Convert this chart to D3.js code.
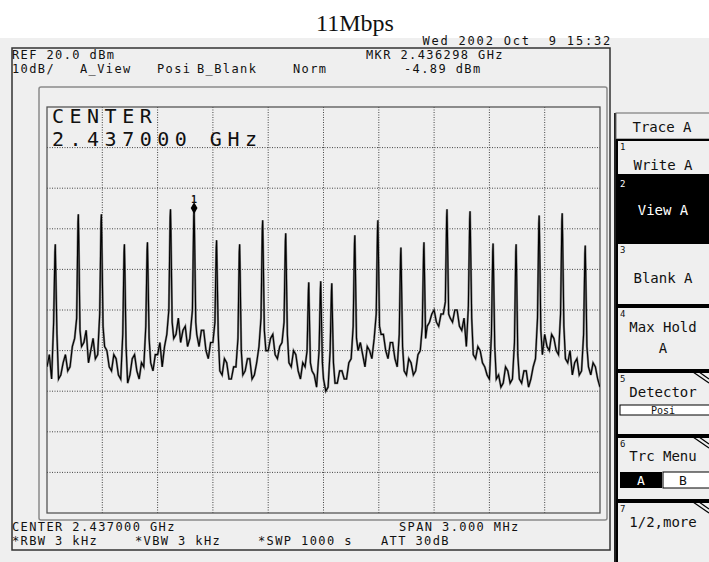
<!DOCTYPE html>
<html>
<head>
<meta charset="utf-8">
<script src="https://cdn.jsdelivr.net/npm/d3@7"></script>
<style>
  body { margin: 0; background: #fff; }
  svg text { font-family: "DejaVu Sans Mono", "Liberation Mono", monospace; fill: #111; }
</style>
</head>
<body>
<svg id="chart" width="709" height="562"></svg>
<script>
// analyzer settings
var startMHz = 2435.5, stopMHz = 2438.5;
var refLevel = 20, bottomLevel = -80;

// spikes (MHz / dBm)
var peakFreqs = [2435.545, 2435.670, 2435.795, 2435.920, 2436.045, 2436.170, 2436.298, 2436.420,
                 2436.545, 2436.670, 2436.795, 2436.920, 2436.985, 2437.045, 2437.170, 2437.295,
                 2437.420, 2437.545, 2437.670, 2437.795, 2437.920, 2438.045, 2438.170, 2438.295, 2438.420];
var peakLevels = [-13.8, -6.4, -6.4, -13.8, -13.3, -5.2, -4.89, -12.8,
                  -13.8, -7.9, -11.1, -23.2, -22.9, -23.4, -11.6, -7.9,
                  -14.6, -13.3, -5.2, -5.7, -13.6, -13.8, -6.7, -6.2, -14.1];
// level where each spike leaves its skirt
var shoulderLevels = [-33, -32, -31, -36, -34, -30, -30, -33,
                      -37, -32, -33, -40, -40, -40, -34, -31,
                      -36, -34, -28, -29, -36, -38, -32, -31, -36];

// noise floor, one reading every 12.5 kHz from the left edge (dBm)
var floorStep = 0.0125;
var floorLevels = [
  -44, -41, -47, -45, -42, -47, -46, -43, -41, -45, -44, -39, -37, -40, -36, -39,
  -38, -35, -43, -40, -37, -42, -41, -38, -35, -39, -40, -44, -45, -41, -42, -46,
  -47, -44, -43, -48, -46, -42, -41, -45, -47, -43, -44, -47, -40, -43, -45, -41,
  -41, -38, -44, -39, -36, -40, -33, -37, -36, -32, -38, -35, -34, -39, -37, -34,
  -33, -36, -39, -35, -35, -40, -42, -38, -38, -43, -41, -45, -46, -42, -43, -47,
  -47, -44, -44, -40, -41, -46, -45, -42, -42, -47, -46, -43, -39, -42, -37, -40,
  -40, -37, -36, -41, -42, -39, -38, -35, -40, -43, -44, -40, -41, -45, -47, -43,
  -44, -46, -48, -45, -46, -49, -49, -46, -47, -50, -49, -47, -46, -48, -48, -45,
  -45, -47, -47, -43, -42, -45, -43, -40, -38, -41, -44, -39, -40, -42, -37, -40,
  -39, -36, -36, -40, -42, -38, -38, -42, -44, -41, -41, -45, -46, -42, -43, -46,
  -45, -41, -40, -38, -37, -34, -33, -31, -30, -33, -34, -31, -31, -28, -29, -32,
  -33, -30, -30, -34, -35, -32, -39, -36, -37, -41, -42, -39, -40, -43, -44, -46,
  -47, -44, -43, -47, -46, -49, -48, -44, -45, -48, -47, -44, -44, -47, -48, -45,
  -45, -49, -47, -44, -42, -40, -38, -41, -36, -39, -40, -36, -37, -40, -41, -38,
  -38, -42, -43, -40, -46, -43, -42, -46, -45, -42, -41, -44, -46, -43, -44, -47,
  -49];

var markerFreq = 2436.298, markerLevel = -4.89;

var headerTexts = [
  {t: "REF 20.0 dBm", x: 12, y: 59}, {t: "MKR 2.436298 GHz", x: 366, y: 59},
  {t: "10dB/", x: 12, y: 73}, {t: "A_View", x: 80, y: 73}, {t: "Posi", x: 157, y: 73},
  {t: "B_Blank", x: 197, y: 73}, {t: "Norm", x: 293, y: 73}, {t: "-4.89 dBm", x: 404, y: 73}
];
var footerTexts = [
  {t: "CENTER 2.437000 GHz", x: 12, y: 531}, {t: "SPAN 3.000 MHz", x: 399, y: 531},
  {t: "*RBW 3 kHz", x: 12, y: 545}, {t: "*VBW 3 kHz", x: 135, y: 545},
  {t: "*SWP 1000 s", x: 258, y: 545}, {t: "ATT 30dB", x: 381, y: 545}
];
var softkeys = ["Write A", "View A", "Blank A", "Max Hold", "Detector", "Trc Menu", "1/2,more"];

var svg = d3.select("#chart");

// screen background
svg.append("rect").attr("x", 0).attr("y", 38).attr("width", 709).attr("height", 524).attr("fill", "#efefef");

svg.append("text")
  .attr("x", 355).attr("y", 31)
  .attr("text-anchor", "middle")
  .style("font-family", "'Liberation Serif', 'Times New Roman', serif")
  .style("font-size", "24px")
  .text("11Mbps");

// outer frame
svg.append("rect").attr("x", 12).attr("y", 48).attr("width", 598).attr("height", 502)
  .attr("fill", "none").attr("stroke", "#333").attr("stroke-width", 1.5);

// status lines
svg.append("text").attr("x", 612).attr("y", 45).attr("text-anchor", "end")
  .style("font-size", "12px").style("letter-spacing", "1.8px")
  .attr("xml:space", "preserve").text("Wed 2002 Oct  9 15:32");

svg.selectAll(".hdr").data(headerTexts.concat(footerTexts)).enter()
  .append("text").attr("class", "hdr")
  .attr("x", function(d) { return d.x; }).attr("y", function(d) { return d.y; })
  .style("font-size", "12px").style("letter-spacing", "1.4px")
  .text(function(d) { return d.t; });

// inner frame
svg.append("rect").attr("x", 39).attr("y", 87).attr("width", 568).attr("height", 433)
  .attr("rx", 2).attr("fill", "none").attr("stroke", "#8a8a8a").attr("stroke-width", 1.5);

var gx = 47, gy = 107, gw = 553, gh = 406;
var x = d3.scaleLinear().domain([startMHz, stopMHz]).range([gx, gx + gw]);
var y = d3.scaleLinear().domain([bottomLevel, refLevel]).range([gy + gh, gy]);

var chart = svg.append("g");

// graticule
var divFreqs = d3.range(1, 10).map(function(i) { return startMHz + i * (stopMHz - startMHz) / 10; });
var divLevels = d3.range(refLevel - 10, bottomLevel, -10);

chart.selectAll(".vgrid").data(divFreqs).enter().append("line")
  .attr("x1", function(d) { return x(d); }).attr("x2", function(d) { return x(d); })
  .attr("y1", gy).attr("y2", gy + gh)
  .attr("stroke", "#444").attr("stroke-width", 1).attr("stroke-dasharray", "1,1.5");
chart.selectAll(".hgrid").data(divLevels).enter().append("line")
  .attr("y1", function(d) { return y(d); }).attr("y2", function(d) { return y(d); })
  .attr("x1", gx).attr("x2", gx + gw)
  .attr("stroke", "#444").attr("stroke-width", 1).attr("stroke-dasharray", "1,1.5");
chart.append("rect").attr("x", gx).attr("y", gy).attr("width", gw).attr("height", gh)
  .attr("fill", "none").attr("stroke", "#555").attr("stroke-width", 1.3);

chart.append("text").attr("x", 52).attr("y", 123)
  .style("font-size", "20px").style("letter-spacing", "5.5px").text("CENTER");
chart.append("text").attr("x", 52).attr("y", 146)
  .style("font-size", "20px").style("letter-spacing", "5.5px").text("2.437000 GHz");

// build the sweep: floor readings plus the spikes
var pts = [];
floorLevels.forEach(function(v, i) {
  var f = startMHz + i * floorStep;
  var near = peakFreqs.some(function(p) { return Math.abs(p - f) < 0.011; });
  if (!near) pts.push({f: f, v: v});
});
peakFreqs.forEach(function(p, i) {
  pts.push({f: p - 0.009, v: shoulderLevels[i]});
  pts.push({f: p - 0.002, v: peakLevels[i] - 2});
  pts.push({f: p, v: peakLevels[i]});
  pts.push({f: p + 0.002, v: peakLevels[i] - 5});
  pts.push({f: p + 0.009, v: shoulderLevels[i] - 3});
});
pts.sort(function(a, b) { return a.f - b.f; });

svg.append("clipPath").attr("id", "gclip").append("rect")
  .attr("x", gx).attr("y", gy).attr("width", gw).attr("height", gh);

var line = d3.line()
  .x(function(d) { return x(d.f); })
  .y(function(d) { return y(d.v); });

chart.append("path").datum(pts)
  .attr("clip-path", "url(#gclip)")
  .attr("fill", "none").attr("stroke", "#808080").attr("stroke-width", 2.2)
  .attr("d", line);
chart.append("path").datum(pts)
  .attr("clip-path", "url(#gclip)")
  .attr("fill", "none").attr("stroke", "#000").attr("stroke-width", 1.1)
  .attr("d", line);

// marker 1
var mx = x(markerFreq), my = y(markerLevel);
chart.append("path")
  .attr("d", d3.symbol().type(d3.symbolDiamond).size(40))
  .attr("transform", "translate(" + mx + "," + my + ")")
  .attr("fill", "#000");
chart.append("text").attr("x", mx).attr("y", my - 5).attr("text-anchor", "middle")
  .style("font-size", "10px").style("font-weight", "bold").text("1");

// softkey panel
var panel = svg.append("g");
panel.append("line").attr("x1", 615).attr("x2", 615).attr("y1", 113).attr("y2", 562)
  .attr("stroke", "#222").attr("stroke-width", 2);
panel.append("rect").attr("x", 616).attr("y", 113).attr("width", 100).attr("height", 26)
  .attr("fill", "none").attr("stroke", "#666").attr("stroke-width", 1);
panel.append("text").attr("x", 662).attr("y", 132).attr("text-anchor", "middle")
  .style("font-size", "14px").text("Trace A");

var keyTops = [140, 177, 243, 307, 372, 437, 502];
var keyBottoms = [175, 241, 305, 370, 435, 500, 566];
var labelDrop = [30, 38, 40, 25, 25, 24, 25];

softkeys.forEach(function(label, i) {
  var top = keyTops[i], h = keyBottoms[i] - top;
  var dark = i === 1;
  var g = panel.append("g");
  g.append("rect").attr("x", 617).attr("y", top).attr("width", 100).attr("height", h)
    .attr("fill", dark ? "#000" : "#efefef").attr("stroke", "#000").attr("stroke-width", 2);
  g.append("text").attr("x", 620).attr("y", top + 10)
    .style("font-size", "9px").style("fill", dark ? "#fff" : "#111").text(i + 1);
  if (i >= 4) {
    g.append("line").attr("x1", 693).attr("y1", top).attr("x2", 709).attr("y2", top + 11)
      .attr("stroke", "#000").attr("stroke-width", 1.2);
    g.append("line").attr("x1", 699).attr("y1", top).attr("x2", 709).attr("y2", top + 7)
      .attr("stroke", "#000").attr("stroke-width", 1.2);
  }
  if (i === 3) {
    g.append("text").attr("x", 663).attr("y", top + labelDrop[i]).attr("text-anchor", "middle")
      .style("font-size", "14px").text("Max Hold");
    g.append("text").attr("x", 663).attr("y", top + 46).attr("text-anchor", "middle")
      .style("font-size", "14px").text("A");
  } else if (i === 4) {
    g.append("text").attr("x", 663).attr("y", top + labelDrop[i]).attr("text-anchor", "middle")
      .style("font-size", "14px").text(label);
    g.append("rect").attr("x", 620).attr("y", top + 33).attr("width", 92).attr("height", 10)
      .attr("fill", "#fff").attr("stroke", "#000").attr("stroke-width", 1);
    g.append("text").attr("x", 663).attr("y", top + 42).attr("text-anchor", "middle")
      .style("font-size", "10px").text("Posi");
  } else if (i === 5) {
    g.append("text").attr("x", 663).attr("y", top + labelDrop[i]).attr("text-anchor", "middle")
      .style("font-size", "14px").text(label);
    g.append("rect").attr("x", 620).attr("y", top + 35).attr("width", 42).attr("height", 16)
      .attr("fill", "#000");
    g.append("rect").attr("x", 663).attr("y", top + 35).attr("width", 50).attr("height", 16)
      .attr("fill", "#fff").attr("stroke", "#000").attr("stroke-width", 1);
    g.append("text").attr("x", 641).attr("y", top + 48).attr("text-anchor", "middle")
      .style("font-size", "13px").style("fill", "#fff").text("A");
    g.append("text").attr("x", 683).attr("y", top + 48).attr("text-anchor", "middle")
      .style("font-size", "13px").text("B");
  } else {
    g.append("text").attr("x", 663).attr("y", top + labelDrop[i]).attr("text-anchor", "middle")
      .style("font-size", "14px").style("fill", dark ? "#fff" : "#111").text(label);
  }
});
</script>
</body>
</html>
